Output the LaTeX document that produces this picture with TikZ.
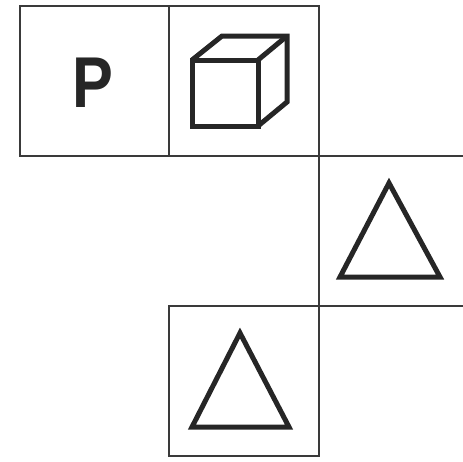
\documentclass[tikz,border=0pt]{standalone}
\usepackage{fontspec}
\setsansfont{Liberation Sans}
\usepackage{tikz}
\definecolor{netink}{HTML}{3A3A3A}
\definecolor{figink}{HTML}{262626}
\tikzset{
  cell/.style={draw=netink, line width=1.4pt, line cap=rect},
  glyph/.style={draw=figink, line width=5pt, line join=miter},
  letter/.style={font=\sffamily\bfseries\fontsize{72}{72}\selectfont, text=figink, inner sep=0pt, xscale=0.85},
}
\begin{document}
\begin{tikzpicture}[x=1pt, y=-1pt]
      \useasboundingbox (0,0) rectangle (463,461);
      % net of squares
      \coordinate (tl) at (20,6);
      \coordinate (tm) at (169,6);
      \coordinate (tr) at (319,6);
      \coordinate (ml) at (20,156);
      \coordinate (mm) at (169,156);
      \coordinate (mr) at (319,156);
      \coordinate (me) at (463,156);
      \coordinate (lm) at (169,306);
      \coordinate (lr) at (319,306);
      \coordinate (le) at (463,306);
      \coordinate (bm) at (169,456);
      \coordinate (br) at (319,456);
      \draw[cell] (tl) rectangle (mr);
      \draw[cell] (tm) -- (mm);
      \draw[cell] (mr) -- (me);
      \draw[cell] (mr) -- (br);
      \draw[cell] (lm) -- (le);
      \draw[cell] (lm) -- (bm) -- (br);
      % face symbols
      \node[letter] (pface) at (93,83) {P};
      \draw[glyph] (192,60) rectangle (258,126);
      \draw[glyph] (192,60) -- (222,36) -- (287,36) -- (287,102) -- (258,126);
      \draw[glyph] (258,60) -- (287,36);
      \draw[glyph] (389,183) -- (440,277) -- (340,277) -- cycle;
      \draw[glyph] (240,333) -- (289,427) -- (192,427) -- cycle;
    \end{tikzpicture}
\end{document}
